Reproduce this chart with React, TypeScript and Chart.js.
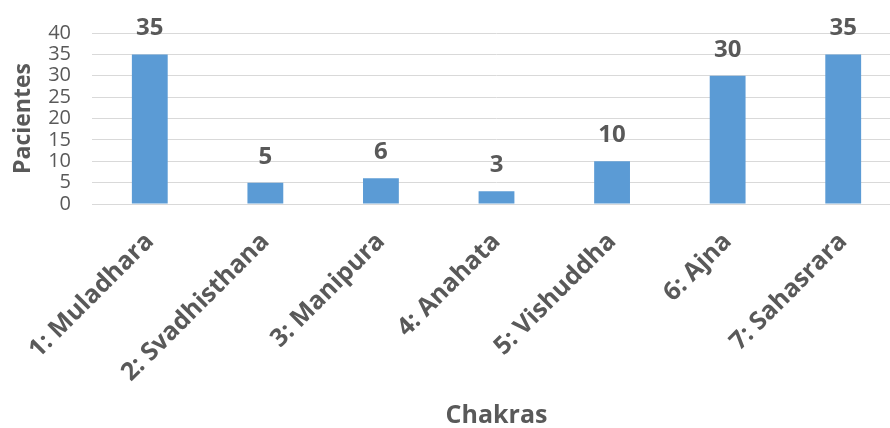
import React, { useEffect, useRef } from "react";
import { Chart, registerables } from "chart.js";

Chart.register(...registerables);

const categories = [
  "1: Muladhara",
  "2: Svadhisthana",
  "3: Manipura",
  "4: Anahata",
  "5: Vishuddha",
  "6: Ajna",
  "7: Sahasrara",
];
const pacientes = [35, 5, 6, 3, 10, 30, 35];
const yTicks = [0, 5, 10, 15, 20, 25, 30, 35, 40];

const TEXT = "#595959";
const GRID = "#D9D9D9";
const BAR = "#5B9BD5";
const FONT = "'Open Sans', sans-serif";

const valueLabels = {
  id: "valueLabels",
  afterDatasetsDraw(chart: any) {
    const ctx = chart.ctx;
    const meta = chart.getDatasetMeta(0);
    ctx.save();
    ctx.fillStyle = TEXT;
    ctx.font = `bold 24px ${FONT}`;
    ctx.textAlign = "center";
    ctx.textBaseline = "alphabetic";
    meta.data.forEach((el: any, i: number) => {
      ctx.fillText(String(pacientes[i]), el.x, el.y - 19);
    });
    ctx.restore();
  },
};

export default function App() {
  const ref = useRef<HTMLCanvasElement>(null);
  useEffect(() => {
    if (!ref.current) return;
    const chart = new Chart(ref.current, {
      type: "bar",
      data: {
        labels: categories,
        datasets: [
          {
            data: pacientes,
            backgroundColor: BAR,
            barPercentage: 0.31,
            categoryPercentage: 1,
          },
        ],
      },
      options: {
        animation: false,
        responsive: false,
        devicePixelRatio: 1,
        layout: { padding: { top: 20, left: 0, right: 0, bottom: 0 } },
        plugins: {
          legend: { display: false },
          tooltip: { enabled: false },
        },
        scales: {
          x: {
            afterFit: (s: any) => {
              s.paddingLeft = 0;
              s.paddingRight = 0;
              s.height = 224;
            },
            grid: { display: false, drawTicks: false },
            border: { display: true, color: GRID, width: 1 },
            ticks: {
              color: TEXT,
              font: { family: FONT, size: 25, weight: "bold" },
              minRotation: 45,
              maxRotation: 45,
              padding: 23,
              autoSkip: false,
            },
            title: {
              display: true,
              text: "Chakras",
              color: TEXT,
              font: { family: FONT, size: 25, weight: "bold", lineHeight: 1 },
              padding: { top: 0, bottom: 0 },
            },
          },
          y: {
            min: 0,
            max: 40,
            afterBuildTicks: (axis: any) => {
              axis.ticks = yTicks.map((v) => ({ value: v }));
            },
            afterFit: (s: any) => {
              s.width = 92;
            },
            grid: { color: GRID, drawTicks: false },
            border: { display: false },
            ticks: {
              color: TEXT,
              font: { family: FONT, size: 20 },
              padding: 21,
              autoSkip: false,
            },
            title: {
              display: true,
              text: "Pacientes",
              color: TEXT,
              font: { family: FONT, size: 23, weight: "bold" },
              padding: { top: 10, bottom: 10 },
            },
          },
        },
      },
      plugins: [valueLabels],
    });
    return () => chart.destroy();
  }, []);
  return (
    <div
      style={{
        position: "absolute",
        left: 0,
        top: 0,
        width: 890,
        height: 428,
        overflow: "hidden",
        background: "#fff",
      }}
    >
      <canvas ref={ref} width={901} height={428} style={{ display: "block" }} />
    </div>
  );
}
